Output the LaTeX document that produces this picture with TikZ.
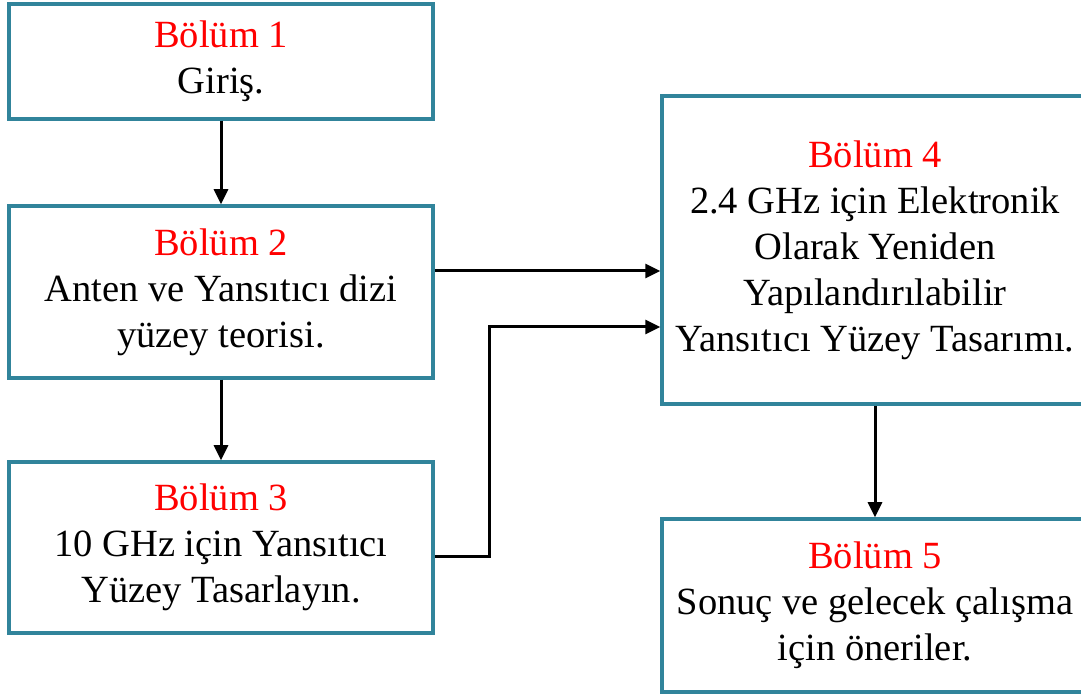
\documentclass[tikz,border=0pt]{standalone}
\usepackage{fontspec}
\setmainfont{Liberation Serif}
\usetikzlibrary{positioning, arrows.meta}
\definecolor{boxteal}{RGB}{49,132,155}
\definecolor{titlered}{RGB}{255,0,0}

\begin{document}
\begin{tikzpicture}[x=1pt, y=1pt,
                bolum/.style={draw=boxteal, line width=3.5pt, rectangle, align=center,
                    inner sep=0pt, font=\fontsize{38.5}{46}\selectfont},
                arr/.style={-{Triangle[length=15pt, width=14pt]}, line width=3pt}]
                \useasboundingbox (0,0) rectangle (1081,700);
                \clip (0,0) rectangle (1081,700);

                \node[bolum, minimum width=424, minimum height=115] (b1) at (221,638.5)
                    {\textcolor{titlered}{Bölüm 1}\\Giriş.};
                \node[bolum, minimum width=424, minimum height=172] (b2) at (221,408)
                    {\textcolor{titlered}{Bölüm 2}\\Anten ve Yansıtıcı dizi\\yüzey teorisi.};
                \node[bolum, minimum width=424, minimum height=171] (b3) at (221,152.5)
                    {\textcolor{titlered}{Bölüm 3}\\10 GHz için Yansıtıcı\\Yüzey Tasarlayın.};
                \node[bolum, minimum width=426, minimum height=308] (b4) at (875,450)
                    {\textcolor{titlered}{Bölüm 4}\\2.4 GHz için Elektronik\\Olarak Yeniden\\Yapılandırılabilir\\Yansıtıcı Yüzey Tasarımı.};
                \node[bolum, minimum width=426, minimum height=173] (b5) at (875,94.5)
                    {\textcolor{titlered}{Bölüm 5}\\Sonuç ve gelecek çalışma\\için öneriler.};

                \coordinate (k1) at (489,143);
                \coordinate (k2) at (489,373);

                \draw[arr] (b1) -- (b2);
                \draw[arr] (b2) -- (b3);
                \draw[arr] ([yshift=21pt]b2.east) -- ([yshift=21pt]b2.east -| b4.west);
                \draw[arr] (b3.east |- k1) -- (k1) -- (k2) -- (k2 -| b4.west);
                \draw[arr] (b4) -- (b5);
            \end{tikzpicture}
\end{document}
